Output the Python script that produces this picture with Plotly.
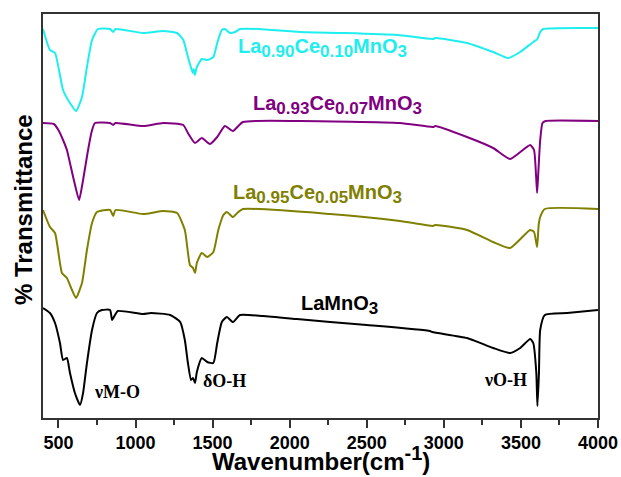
import plotly.graph_objects as go

# Wavenumber (cm^-1) and offset transmittance (arbitrary units)
wn_c = [400, 445, 478, 530, 575, 614, 653, 685, 718, 757, 835, 855, 870, 1050, 1180, 1270, 1310, 1340,
        1365, 1372, 1378, 1385, 1398, 1430, 1465, 1505, 1530, 1560, 1580, 1613, 1645, 1678, 1800, 2067,
        2346, 2700, 2930, 2945, 3150, 3320, 3417, 3495, 3580, 3600, 3607, 3625, 3645, 4000]
t_c = [389, 368, 365, 328, 315, 307, 321, 351, 378, 389, 389, 386, 389, 385, 387, 385, 378, 361,
       348, 345, 349, 343, 351, 359, 358, 361, 375, 388, 389, 385, 386, 389, 389, 386,
       385, 383, 379, 380, 375, 366, 360, 366, 376, 378, 379, 386, 389, 390]

wn_p = [400, 470, 500, 530, 555, 600, 634, 660, 690, 715, 737, 835, 855, 870, 1050, 1180, 1310, 1340,
        1386, 1430, 1483, 1530, 1580, 1632, 1697, 2067, 2715, 2930, 2945, 3150, 3320, 3430, 3560, 3585,
        3598, 3605, 3612, 3625, 3640, 3660, 4000]
t_p = [295, 294, 288, 278, 268, 238, 218, 238, 266, 286, 295, 295, 293, 295, 292, 295, 293, 285,
       275, 280, 274, 281, 292, 287, 296, 297, 295, 291, 292, 281, 270, 259, 273, 268,
       243, 225, 243, 278, 295, 297, 297]

wn_o = [400, 445, 478, 523, 555, 588, 614, 653, 685, 718, 750, 835, 855, 870, 1050, 1180, 1270, 1320,
        1353, 1373, 1386, 1398, 1430, 1465, 1505, 1537, 1570, 1593, 1632, 1660, 1697, 2262, 2715, 2930,
        2945, 3150, 3320, 3430, 3560, 3585, 3605, 3615, 3625, 3655, 4000]
t_o = [208, 191, 185, 145, 140, 128, 120, 135, 168, 195, 206, 208, 202, 208, 204, 207, 205, 188,
       153, 150, 145, 155, 165, 161, 166, 188, 203, 206, 201, 205, 209, 204, 197, 192,
       193, 188, 176, 170, 188, 186, 171, 193, 201, 209, 209]

wn_k = [400, 445, 478, 510, 530, 555, 575, 607, 640, 660, 685, 718, 750, 783, 835, 848, 867, 885, 1050,
        1100, 1225, 1290, 1320, 1340, 1360, 1373, 1386, 1398, 1430, 1465, 1505, 1530, 1560, 1593, 1632,
        1678, 1827, 2047, 2262, 2500, 2910, 2925, 3150, 3320, 3430, 3495, 3560, 3580, 3600, 3607, 3617,
        3625, 3655, 3800, 4000]
t_k = [110, 105, 95, 75, 58, 60, 45, 25, 13, 25, 55, 88, 105, 108, 108, 98, 103, 107, 104,
       105, 103, 96, 78, 55, 38, 40, 35, 46, 60, 56, 55, 75, 96, 101, 96,
       103, 102, 99, 96, 93, 87, 86, 80, 70, 65, 70, 79, 75, 45, 12, 45,
       88, 103, 105, 108]

tick_vals = [500, 1000, 1500, 2000, 2500, 3000, 3500, 4000]


def sub(s):
    return '<sub><span style="font-size:17px">' + s + '</span></sub>'


series = [
    ("La" + sub("0.90") + "Ce" + sub("0.10") + "MnO" + sub("3"), wn_c, t_c, "#1EEEEE"),
    ("La" + sub("0.93") + "Ce" + sub("0.07") + "MnO" + sub("3"), wn_p, t_p, "#800080"),
    ("La" + sub("0.95") + "Ce" + sub("0.05") + "MnO" + sub("3"), wn_o, t_o, "#808000"),
    ("LaMnO" + sub("3"), wn_k, t_k, "#000000"),
]

# label positions (wavenumber, transmittance)
label_pos = [(1655, 370), (1746, 313), (1622, 224), (2060, 113)]
peak_labels = [("νM-O", 880, 26), ("δO-H", 1580, 37), ("νO-H", 3403, 38)]

fig = go.Figure()
for name, x, y, col in series:
    fig.add_trace(go.Scatter(x=x, y=y, mode="lines", name=name,
                             line=dict(color=col, width=2, shape="spline", smoothing=0.5)))

for (name, x, y, col), (lx, ly) in zip(series, label_pos):
    fig.add_annotation(x=lx, y=ly, text=name, showarrow=False,
                       xanchor="left", yanchor="middle",
                       font=dict(family="Liberation Sans, Arial", size=20, color=col, weight="bold"))

for txt, lx, ly in peak_labels:
    fig.add_annotation(x=lx, y=ly, text=txt, showarrow=False,
                       xanchor="center", yanchor="middle",
                       font=dict(family="Liberation Serif, Times New Roman", size=18, color="#000",
                                 weight="bold"))

fig.add_annotation(xref="paper", yref="paper", x=0.501, y=-0.146, xanchor="center", yanchor="bottom",
                   text='Wavenumber(cm<sup><span style="font-size:20px">-1</span></sup>)', showarrow=False,
                   font=dict(family="Liberation Sans, Arial", size=24, color="#000", weight="bold"))
fig.add_annotation(xref="paper", yref="paper", x=-0.034, y=0.515, xanchor="center", yanchor="middle",
                   text="% Transmittance", textangle=-90, showarrow=False,
                   font=dict(family="Liberation Sans, Arial", size=24, color="#000", weight="bold"))

fig.update_layout(
    width=621, height=477,
    margin=dict(l=43, r=23, t=14, b=59, autoexpand=False),
    plot_bgcolor="white", paper_bgcolor="white",
    showlegend=False,
)
fig.update_xaxes(range=[400, 4000], tickvals=tick_vals, automargin=False,
                 ticks="outside", ticklen=8, tickwidth=1.5, tickcolor="#333",
                 minor=dict(dtick=250, tick0=0, ticks="outside", ticklen=5, tickwidth=1.5, tickcolor="#333"),
                 showline=True, linecolor="#333", linewidth=1.5, mirror=True, showgrid=False, zeroline=False,
                 tickfont=dict(family="Liberation Sans, Arial", size=18, color="#000", weight="bold"))
fig.update_yaxes(range=[0, 404], showticklabels=False, ticks="", showline=True, linecolor="#333",
                 linewidth=1.5, mirror=True, showgrid=False, zeroline=False, automargin=False)

fig.write_html("out.html", config={"displayModeBar": False},
               post_script="document.body.style.margin='0';document.body.style.overflow='hidden';")
